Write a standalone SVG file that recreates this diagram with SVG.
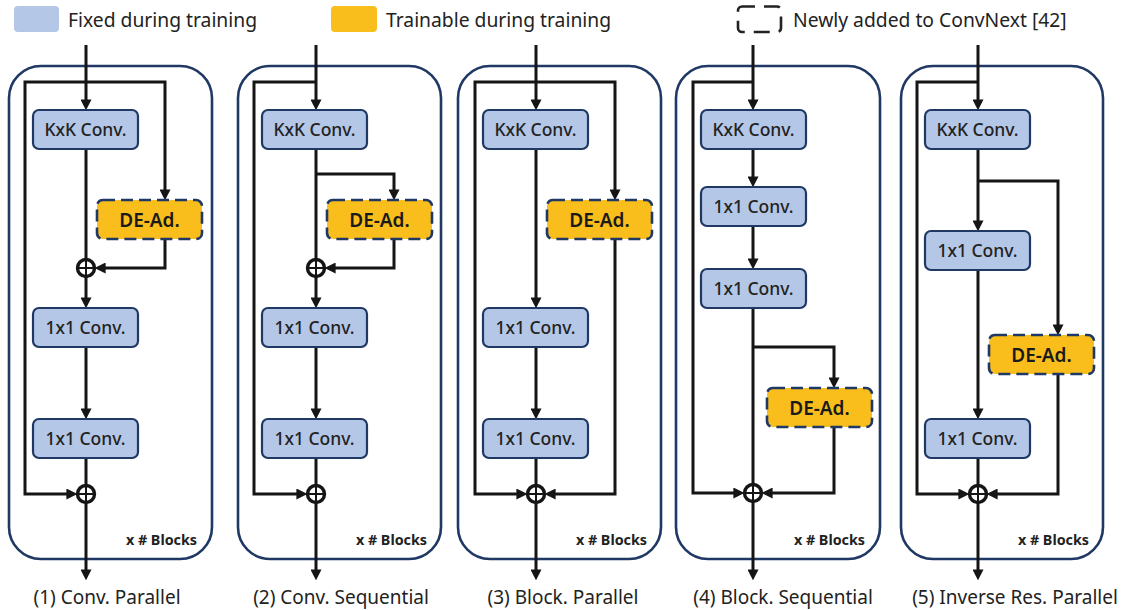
<svg xmlns="http://www.w3.org/2000/svg" width="1124" height="610" viewBox="0 0 1124 610">
  <defs>
    <marker id="ah" viewBox="0 0 10 10" refX="6" refY="5" markerWidth="11" markerHeight="11" markerUnits="userSpaceOnUse" orient="auto">
      <path d="M0,0 L10,5 L0,10 z" fill="#151515"/>
    </marker>
    <g id="sum">
      <circle r="8.5" fill="#fff" stroke="#151515" stroke-width="3.4"/>
      <path d="M-7,0 H7 M0,-7 V7" stroke="#151515" stroke-width="2"/>
    </g>
  </defs>
  <style>
    .panel { fill: #fff; stroke: #1F3864; stroke-width: 2.6; }
    .fixed { fill: #B4C7E7; stroke: #1F3864; stroke-width: 2.2; }
    .train { fill: #F9BE1C; stroke: #1F3864; stroke-width: 2.6; stroke-dasharray: 12 6; }
    .wire { fill: none; stroke: #151515; stroke-width: 3; }
    .arr { marker-end: url(#ah); }
    .bt { font-family: "Noto Sans", "Open Sans", sans-serif; font-size: 17.5px; font-weight: 500; fill: #222; text-anchor: middle; }
    .dt { font-family: "Noto Sans", "Open Sans", sans-serif; font-size: 19px; font-weight: 600; fill: #1a1a1a; text-anchor: middle; }
    .blk { font-family: "Noto Sans", "Open Sans", sans-serif; font-size: 14.3px; font-weight: 700; fill: #222; text-anchor: end; }
    .cap { font-family: "Noto Sans", "Open Sans", sans-serif; font-size: 19px; fill: #222; text-anchor: middle; }
    .lg { font-family: "Noto Sans", "Open Sans", sans-serif; font-size: 19.3px; fill: #222; }
  </style>

  <!-- legend -->
  <g id="legend">
    <rect x="14" y="6" width="45" height="26" rx="4" fill="#B4C7E7"/>
    <text class="lg" x="68" y="27">Fixed during training</text>
    <rect x="331" y="6" width="46" height="26" rx="4" fill="#F9BE1C"/>
    <text class="lg" x="386" y="27">Trainable during training</text>
    <rect x="738" y="6.5" width="43" height="25.5" rx="4" fill="none" stroke="#222" stroke-width="2.6" stroke-dasharray="16 9" stroke-dashoffset="3"/>
    <text class="lg" x="793" y="27">Newly added to ConvNext [42]</text>
  </g>

  <!-- block outlines -->
  <g id="panels">
    <rect class="panel" x="9" y="66" width="203" height="493" rx="32"/>
    <rect class="panel" x="238" y="66" width="203" height="493" rx="32"/>
    <rect class="panel" x="458" y="66" width="203" height="493" rx="32"/>
    <rect class="panel" x="676" y="66" width="204" height="493" rx="32"/>
    <rect class="panel" x="901" y="66" width="202" height="493" rx="32"/>
  </g>

  <!-- connectors -->
  <g id="connectors" class="wire">
    <!-- (1) Conv. Parallel -->
    <path class="arr" d="M86,45 V106"/>
    <path class="arr" d="M86,82 H165 V196"/>
    <path class="arr" d="M86,82 H25 V494 H73"/>
    <path d="M86,149 V262"/>
    <path class="arr" d="M165,239 V268 H99"/>
    <path class="arr" d="M86,276 V304"/>
    <path class="arr" d="M86,347 V415"/>
    <path d="M86,458 V488"/>
    <path class="arr" d="M86,502 V576"/>

    <!-- (2) Conv. Sequential -->
    <path class="arr" d="M316,45 V106"/>
    <path class="arr" d="M316,82 H254 V494 H303"/>
    <path d="M316,149 V262"/>
    <path class="arr" d="M316,174 H394 V196"/>
    <path class="arr" d="M394,239 V268 H329"/>
    <path class="arr" d="M316,276 V304"/>
    <path class="arr" d="M316,347 V415"/>
    <path d="M316,458 V488"/>
    <path class="arr" d="M316,502 V576"/>

    <!-- (3) Block. Parallel -->
    <path class="arr" d="M536,45 V106"/>
    <path class="arr" d="M536,82 H475 V494 H523"/>
    <path class="arr" d="M536,82 H615 V196"/>
    <path class="arr" d="M536,149 V304"/>
    <path class="arr" d="M536,347 V415"/>
    <path d="M536,458 V488"/>
    <path class="arr" d="M615,239 V494 H549"/>
    <path class="arr" d="M536,502 V576"/>

    <!-- (4) Block. Sequential -->
    <path class="arr" d="M753,45 V106"/>
    <path class="arr" d="M753,82 H693 V493 H740"/>
    <path class="arr" d="M753,149 V183"/>
    <path class="arr" d="M753,226 V265"/>
    <path d="M753,308 V487"/>
    <path class="arr" d="M753,347 H834 V384"/>
    <path class="arr" d="M834,427 V493 H766"/>
    <path class="arr" d="M753,501 V576"/>

    <!-- (5) Inverse Res. Parallel -->
    <path class="arr" d="M978,45 V106"/>
    <path class="arr" d="M978,82 H917 V494 H965"/>
    <path class="arr" d="M978,149 V227"/>
    <path class="arr" d="M978,181 H1058 V331"/>
    <path class="arr" d="M978,270 V415"/>
    <path d="M978,458 V488"/>
    <path class="arr" d="M1058,374 V494 H991"/>
    <path class="arr" d="M978,502 V576"/>
  </g>

  <!-- (1) Conv. Parallel -->
  <g id="p1-kxk"><rect class="fixed" x="33" y="110" width="105" height="39" rx="6"/><text class="bt" x="85.5" y="136">KxK Conv.</text></g>
  <g id="p1-dead"><rect class="train" x="97" y="200" width="105" height="39" rx="6"/><text class="dt" x="149.5" y="226.5">DE-Ad.</text></g>
  <g id="p1-sum1"><use href="#sum" x="86" y="268"/></g>
  <g id="p1-conv1"><rect class="fixed" x="33" y="308" width="105" height="39" rx="6"/><text class="bt" x="85.5" y="334">1x1 Conv.</text></g>
  <g id="p1-conv2"><rect class="fixed" x="33" y="419" width="105" height="39" rx="6"/><text class="bt" x="85.5" y="445">1x1 Conv.</text></g>
  <g id="p1-sum2"><use href="#sum" x="86" y="494"/></g>
  <g id="p1-label"><text class="blk" x="197" y="545">x # Blocks</text><text class="cap" x="107" y="604">(1) Conv. Parallel</text></g>

  <!-- (2) Conv. Sequential -->
  <g id="p2-kxk"><rect class="fixed" x="262" y="110" width="105" height="39" rx="6"/><text class="bt" x="314.5" y="136">KxK Conv.</text></g>
  <g id="p2-dead"><rect class="train" x="327" y="200" width="105" height="39" rx="6"/><text class="dt" x="379.5" y="226.5">DE-Ad.</text></g>
  <g id="p2-sum1"><use href="#sum" x="316" y="268"/></g>
  <g id="p2-conv1"><rect class="fixed" x="262" y="308" width="105" height="39" rx="6"/><text class="bt" x="314.5" y="334">1x1 Conv.</text></g>
  <g id="p2-conv2"><rect class="fixed" x="262" y="419" width="105" height="39" rx="6"/><text class="bt" x="314.5" y="445">1x1 Conv.</text></g>
  <g id="p2-sum2"><use href="#sum" x="316" y="494"/></g>
  <g id="p2-label"><text class="blk" x="427" y="545">x # Blocks</text><text class="cap" x="341" y="604">(2) Conv. Sequential</text></g>

  <!-- (3) Block. Parallel -->
  <g id="p3-kxk"><rect class="fixed" x="483" y="110" width="105" height="39" rx="6"/><text class="bt" x="535.5" y="136">KxK Conv.</text></g>
  <g id="p3-dead"><rect class="train" x="547" y="200" width="105" height="39" rx="6"/><text class="dt" x="599.5" y="226.5">DE-Ad.</text></g>
  <g id="p3-conv1"><rect class="fixed" x="483" y="308" width="105" height="39" rx="6"/><text class="bt" x="535.5" y="334">1x1 Conv.</text></g>
  <g id="p3-conv2"><rect class="fixed" x="483" y="419" width="105" height="39" rx="6"/><text class="bt" x="535.5" y="445">1x1 Conv.</text></g>
  <g id="p3-sum"><use href="#sum" x="536" y="494"/></g>
  <g id="p3-label"><text class="blk" x="647" y="545">x # Blocks</text><text class="cap" x="563" y="604">(3) Block. Parallel</text></g>

  <!-- (4) Block. Sequential -->
  <g id="p4-kxk"><rect class="fixed" x="701" y="110" width="105" height="39" rx="6"/><text class="bt" x="753.5" y="136">KxK Conv.</text></g>
  <g id="p4-conv1"><rect class="fixed" x="701" y="187" width="105" height="39" rx="6"/><text class="bt" x="753.5" y="213">1x1 Conv.</text></g>
  <g id="p4-conv2"><rect class="fixed" x="701" y="269" width="105" height="39" rx="6"/><text class="bt" x="753.5" y="295">1x1 Conv.</text></g>
  <g id="p4-dead"><rect class="train" x="767" y="388" width="105" height="39" rx="6"/><text class="dt" x="819.5" y="414.5">DE-Ad.</text></g>
  <g id="p4-sum"><use href="#sum" x="753" y="493"/></g>
  <g id="p4-label"><text class="blk" x="865" y="545">x # Blocks</text><text class="cap" x="783" y="604">(4) Block. Sequential</text></g>

  <!-- (5) Inverse Res. Parallel -->
  <g id="p5-kxk"><rect class="fixed" x="925" y="110" width="105" height="39" rx="6"/><text class="bt" x="977.5" y="136">KxK Conv.</text></g>
  <g id="p5-conv1"><rect class="fixed" x="925" y="231" width="105" height="39" rx="6"/><text class="bt" x="977.5" y="257">1x1 Conv.</text></g>
  <g id="p5-dead"><rect class="train" x="989" y="335" width="105" height="39" rx="6"/><text class="dt" x="1041.5" y="361.5">DE-Ad.</text></g>
  <g id="p5-conv2"><rect class="fixed" x="925" y="419" width="105" height="39" rx="6"/><text class="bt" x="977.5" y="445">1x1 Conv.</text></g>
  <g id="p5-sum"><use href="#sum" x="978" y="494"/></g>
  <g id="p5-label"><text class="blk" x="1089" y="545">x # Blocks</text><text class="cap" x="1015" y="604">(5) Inverse Res. Parallel</text></g>
</svg>
